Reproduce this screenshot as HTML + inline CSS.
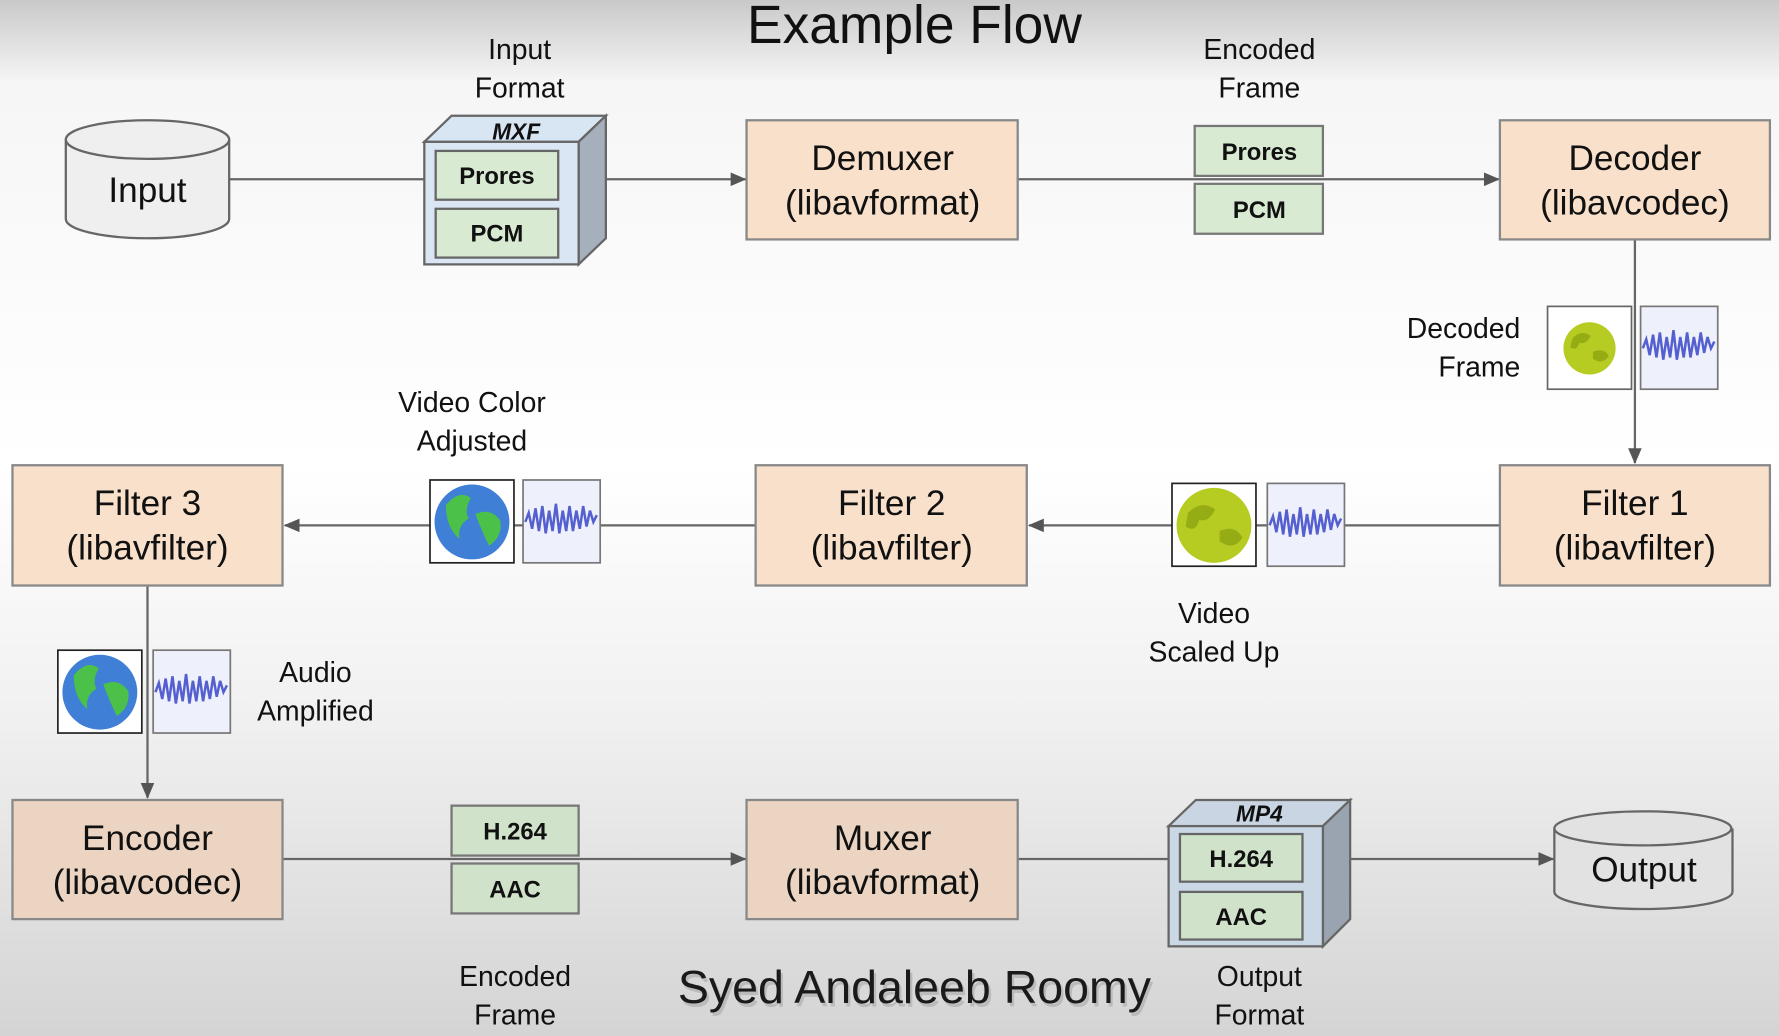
<!DOCTYPE html>
<html><head><meta charset="utf-8"><style>
html,body{margin:0;padding:0;width:1779px;height:1036px;overflow:hidden;background:#fff}
svg{display:block}
text{font-family:"Liberation Sans",sans-serif;fill:#111}
</style></head><body>
<svg width="1779" height="1036" viewBox="0 0 1568 913" preserveAspectRatio="none" xmlns="http://www.w3.org/2000/svg">
<defs>
<linearGradient id="bg" x1="0" y1="0" x2="0" y2="1">
<stop offset="0" stop-color="#c9c9c9"/><stop offset="0.08" stop-color="#f6f6f6"/><stop offset="0.45" stop-color="#ffffff"/><stop offset="0.7" stop-color="#f0f0f0"/><stop offset="1" stop-color="#d4d4d4"/>
</linearGradient>
<marker id="ar" markerWidth="14" markerHeight="12" refX="13" refY="6" orient="auto" markerUnits="userSpaceOnUse"><path d="M0,0 L14,6 L0,12 z" fill="#555"/></marker>
<g id="gy"><rect x="0" y="0" width="74" height="73" fill="#fff" stroke="#666" stroke-width="1.5"/><circle cx="37" cy="37" r="23" fill="#b6cc22"/><path d="M22,28 q8,-8 16,-2 q-4,8 -10,6 q-2,8 -8,4z M40,40 q10,-4 14,4 q-6,8 -14,2z" fill="#96ac14"/></g>
<g id="gy2"><rect x="0" y="0" width="74" height="73" fill="#fff" stroke="#222" stroke-width="1.5"/><circle cx="37" cy="37" r="33" fill="#b6cc22"/><path d="M14,26 q12,-12 24,-3 q-6,12 -14,9 q-3,12 -12,6z M42,42 q14,-6 20,6 q-8,12 -20,3z" fill="#96ac14"/></g>
<g id="gb"><rect x="0" y="0" width="74" height="73" fill="#fff" stroke="#222" stroke-width="1.5"/><circle cx="37" cy="37" r="33" fill="#3f7fd6"/><path d="M14,22 q12,-14 22,-6 q-6,10 -2,18 q-10,6 -8,18 q-12,-10 -12,-30z M40,30 q14,-6 22,6 q2,14 -10,22 q-6,-12 -12,-28z" fill="#4cc14a"/></g>
<g id="wv"><rect x="0" y="0" width="68" height="73" fill="#eef0fb" stroke="#777" stroke-width="1.5"/><path d="M2,37 l3,-8 l3,14 l3,-18 l3,20 l3,-22 l3,24 l3,-20 l3,18 l3,-24 l3,26 l3,-20 l3,18 l3,-22 l3,22 l3,-18 l3,16 l3,-20 l3,18 l3,-14 l3,10 l3,-6" fill="none" stroke="#5560d0" stroke-width="2.2"/></g>
</defs>
<rect width="1568" height="913" fill="url(#bg)"/>
<text x="806" y="38" font-size="47" text-anchor="middle">Example Flow</text>

<g stroke="#666" stroke-width="2" fill="none">
<line x1="202" y1="158" x2="374" y2="158"/>
<line x1="535" y1="158" x2="657" y2="158" marker-end="url(#ar)"/>
<line x1="897" y1="158" x2="1321" y2="158" marker-end="url(#ar)"/>
<line x1="1441" y1="211" x2="1441" y2="408" marker-end="url(#ar)"/>
<line x1="1322" y1="463" x2="907" y2="463" marker-end="url(#ar)"/>
<line x1="666" y1="463" x2="251" y2="463" marker-end="url(#ar)"/>
<line x1="130" y1="516" x2="130" y2="703" marker-end="url(#ar)"/>
<line x1="249" y1="757" x2="657" y2="757" marker-end="url(#ar)"/>
<line x1="897" y1="757" x2="1030" y2="757"/>
<line x1="1190" y1="757" x2="1369" y2="757" marker-end="url(#ar)"/>
</g>

<path d="M58,123 V193 A72,17 0 0 0 202,193 V123" fill="#efefef" stroke="#666" stroke-width="2"/>
<ellipse cx="130" cy="123" rx="72" ry="17" fill="#efefef" stroke="#666" stroke-width="2"/>
<text x="130" y="178" font-size="31" text-anchor="middle">Input</text>

<text x="458" y="52" font-size="25" text-anchor="middle">Input</text>
<text x="458" y="86" font-size="25" text-anchor="middle">Format</text>
<path d="M374,125 L398,102 L534,102 L510,125z" fill="#d8e5f3" stroke="#666" stroke-width="2"/>
<path d="M510,125 L534,102 L534,210 L510,233z" fill="#a6b0bd" stroke="#666" stroke-width="2"/>
<rect x="374" y="125" width="136" height="108" fill="#dae6f3" stroke="#666" stroke-width="2"/>
<text x="455" y="123" font-size="20" font-weight="bold" font-style="italic" text-anchor="middle">MXF</text>
<rect x="384" y="133" width="108" height="43" fill="#d9ead3" stroke="#666" stroke-width="2"/>
<rect x="384" y="184" width="108" height="43" fill="#d9ead3" stroke="#666" stroke-width="2"/>
<text x="438" y="162" font-size="21" font-weight="bold" text-anchor="middle">Prores</text>
<text x="438" y="213" font-size="21" font-weight="bold" text-anchor="middle">PCM</text>

<rect x="658" y="106" width="239" height="105" fill="#f8e0cb" stroke="#888" stroke-width="2"/>
<text x="778" y="150" font-size="31" text-anchor="middle">Demuxer</text>
<text x="778" y="189" font-size="31" text-anchor="middle">(libavformat)</text>

<text x="1110" y="52" font-size="25" text-anchor="middle">Encoded</text>
<text x="1110" y="86" font-size="25" text-anchor="middle">Frame</text>
<rect x="1053" y="111" width="113" height="44" fill="#d9ead3" stroke="#777" stroke-width="2"/>
<rect x="1053" y="162" width="113" height="44" fill="#d9ead3" stroke="#777" stroke-width="2"/>
<text x="1110" y="141" font-size="21" font-weight="bold" text-anchor="middle">Prores</text>
<text x="1110" y="192" font-size="21" font-weight="bold" text-anchor="middle">PCM</text>

<rect x="1322" y="106" width="238" height="105" fill="#f8e0cb" stroke="#888" stroke-width="2"/>
<text x="1441" y="150" font-size="31" text-anchor="middle">Decoder</text>
<text x="1441" y="189" font-size="31" text-anchor="middle">(libavcodec)</text>

<text x="1340" y="298" font-size="25" text-anchor="end">Decoded</text>
<text x="1340" y="332" font-size="25" text-anchor="end">Frame</text>
<use href="#gy" x="1364" y="270"/>
<use href="#wv" x="1446" y="270"/>

<rect x="1322" y="410" width="238" height="106" fill="#f8e0cb" stroke="#888" stroke-width="2"/>
<text x="1441" y="454" font-size="31" text-anchor="middle">Filter 1</text>
<text x="1441" y="493" font-size="31" text-anchor="middle">(libavfilter)</text>
<rect x="666" y="410" width="239" height="106" fill="#f8e0cb" stroke="#888" stroke-width="2"/>
<text x="786" y="454" font-size="31" text-anchor="middle">Filter 2</text>
<text x="786" y="493" font-size="31" text-anchor="middle">(libavfilter)</text>
<rect x="11" y="410" width="238" height="106" fill="#f8e0cb" stroke="#888" stroke-width="2"/>
<text x="130" y="454" font-size="31" text-anchor="middle">Filter 3</text>
<text x="130" y="493" font-size="31" text-anchor="middle">(libavfilter)</text>

<use href="#gy2" x="1033" y="426"/>
<use href="#wv" x="1117" y="426"/>
<text x="1070" y="549" font-size="25" text-anchor="middle">Video</text>
<text x="1070" y="583" font-size="25" text-anchor="middle">Scaled Up</text>

<use href="#gb" x="379" y="423"/>
<use href="#wv" x="461" y="423"/>
<text x="416" y="363" font-size="25" text-anchor="middle">Video Color</text>
<text x="416" y="397" font-size="25" text-anchor="middle">Adjusted</text>

<use href="#gb" x="51" y="573"/>
<use href="#wv" x="135" y="573"/>
<text x="278" y="601" font-size="25" text-anchor="middle">Audio</text>
<text x="278" y="635" font-size="25" text-anchor="middle">Amplified</text>

<rect x="11" y="705" width="238" height="105" fill="#ebd5c2" stroke="#888" stroke-width="2"/>
<text x="130" y="749" font-size="31" text-anchor="middle">Encoder</text>
<text x="130" y="788" font-size="31" text-anchor="middle">(libavcodec)</text>

<rect x="398" y="710" width="112" height="44" fill="#d0e2ca" stroke="#777" stroke-width="2"/>
<rect x="398" y="761" width="112" height="44" fill="#d0e2ca" stroke="#777" stroke-width="2"/>
<text x="454" y="740" font-size="21" font-weight="bold" text-anchor="middle">H.264</text>
<text x="454" y="791" font-size="21" font-weight="bold" text-anchor="middle">AAC</text>
<text x="454" y="869" font-size="25" text-anchor="middle">Encoded</text>
<text x="454" y="903" font-size="25" text-anchor="middle">Frame</text>

<rect x="658" y="705" width="239" height="105" fill="#ebd5c2" stroke="#888" stroke-width="2"/>
<text x="778" y="749" font-size="31" text-anchor="middle">Muxer</text>
<text x="778" y="788" font-size="31" text-anchor="middle">(libavformat)</text>

<path d="M1030,728 L1054,705 L1190,705 L1166,728z" fill="#c9d5e2" stroke="#666" stroke-width="2"/>
<path d="M1166,728 L1190,705 L1190,810 L1166,834z" fill="#9aa4b0" stroke="#666" stroke-width="2"/>
<rect x="1030" y="728" width="136" height="106" fill="#cad7e4" stroke="#666" stroke-width="2"/>
<text x="1110" y="724" font-size="20" font-weight="bold" font-style="italic" text-anchor="middle">MP4</text>
<rect x="1040" y="735" width="108" height="42" fill="#d0e2ca" stroke="#666" stroke-width="2"/>
<rect x="1040" y="786" width="108" height="42" fill="#d0e2ca" stroke="#666" stroke-width="2"/>
<text x="1094" y="764" font-size="21" font-weight="bold" text-anchor="middle">H.264</text>
<text x="1094" y="815" font-size="21" font-weight="bold" text-anchor="middle">AAC</text>
<text x="1110" y="869" font-size="25" text-anchor="middle">Output</text>
<text x="1110" y="903" font-size="25" text-anchor="middle">Format</text>

<path d="M1370,730 V786 A78,15 0 0 0 1527,786 V730" fill="#e2e2e2" stroke="#666" stroke-width="2"/>
<ellipse cx="1448" cy="730" rx="78" ry="15" fill="#e2e2e2" stroke="#666" stroke-width="2"/>
<text x="1449" y="777" font-size="31" text-anchor="middle">Output</text>

<text x="808" y="887" font-size="41" text-anchor="middle" style="fill:#bbb">Syed Andaleeb Roomy</text>
<text x="806" y="884" font-size="41" text-anchor="middle" style="fill:#1a1a1a">Syed Andaleeb Roomy</text>
</svg>
</body></html>
